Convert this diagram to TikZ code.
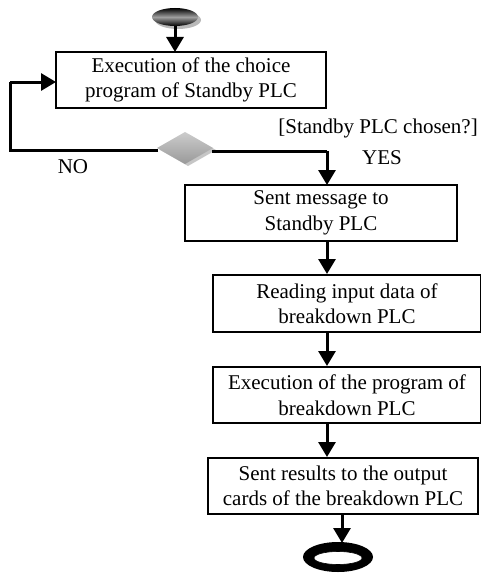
\documentclass[tikz,border=0pt]{standalone}
\usepackage{fontspec}
\setmainfont{Liberation Serif}
\usetikzlibrary{arrows.meta,shapes.geometric}
\begin{document}
\begin{tikzpicture}[x=1pt,y=-1pt,
  font=\fontsize{21}{25.5}\selectfont,
  stepbox/.style={draw=black,line width=2pt,fill=white,inner sep=0pt,align=center},
  flow/.style={line width=3pt,-{Triangle[width=17pt,length=15pt]}},
  link/.style={line width=3pt}]
\useasboundingbox (0,0) rectangle (480,578);

% start state
\fill[gray!55] (178,20) ellipse [x radius=23, y radius=9];
\shade[top color=black,bottom color=black,middle color=gray!75]
  (175,17) ellipse [x radius=23, y radius=9];
\node[ellipse,minimum width=46pt,minimum height=18pt,inner sep=0pt] (start) at (175,17) {};

% action boxes
\node[stepbox,minimum width=270pt,minimum height=56pt] (b1) at (191,80)
  {Execution of the choice\\program of Standby PLC};
\node[stepbox,minimum width=272pt,minimum height=56pt] (b2) at (321,213)
  {Sent message to\\Standby PLC};
\node[stepbox,minimum width=268pt,minimum height=57pt] (b3) at (347,303.5)
  {Reading input data of\\breakdown PLC};
\node[stepbox,minimum width=268pt,minimum height=56pt] (b4) at (347,395)
  {Execution of the program of\\breakdown PLC};
\node[stepbox,minimum width=270pt,minimum height=56pt] (b5) at (343,486)
  {Sent results to the output\\cards of the breakdown PLC};

% decision
\fill[gray!45] (188,134) -- (216,150) -- (188,166) -- (160,150) -- cycle;
\shade[top color=gray!40,bottom color=gray!80]
  (185,132) -- (213,148) -- (185,164) -- (157,148) -- cycle;
\node[diamond,minimum width=56pt,minimum height=32pt,inner sep=0pt] (dec) at (185,148) {};

% end state
\fill[black] (338,557) ellipse [x radius=35, y radius=15];
\filldraw[fill=white,draw=black,line width=0.6pt] (338,558) ellipse [x radius=24, y radius=6.5];
\node[ellipse,minimum width=70pt,minimum height=30pt,inner sep=0pt] (stop) at (338,557) {};

% connectors
\coordinate (s1) at (175,26);
\coordinate (b1t) at (175,52);
\draw[flow] (s1) -- (b1t);

\coordinate (dl) at (158,150);
\coordinate (lx) at (10,150);
\coordinate (ly) at (10,82);
\coordinate (b1w) at (56,82);
\draw[link] (dl) -- (lx) -- (ly);
\draw[flow] (ly) -- (b1w);

\coordinate (dr) at (212,151);
\coordinate (rx) at (327,151);
\coordinate (b2t) at (327,185);
\draw[link] (dr) -- (rx);
\draw[flow] (rx) -- (b2t);

\draw[flow] (b2.south -| 327,0) -- (b3.north -| 327,0);
\draw[flow] (b3.south -| 327,0) -- (b4.north -| 327,0);
\draw[flow] (b4.south -| 327,0) -- (b5.north -| 327,0);
\coordinate (se) at (342,514);
\coordinate (te) at (342,543);
\draw[flow] (se) -- (te);

% guard labels
\node[anchor=east,inner sep=0pt] (guard) at (478,128) {[Standby PLC chosen?]};
\node[inner sep=0pt] (yes) at (382,158) {YES};
\node[inner sep=0pt] (no) at (73,167) {NO};
\end{tikzpicture}
\end{document}
